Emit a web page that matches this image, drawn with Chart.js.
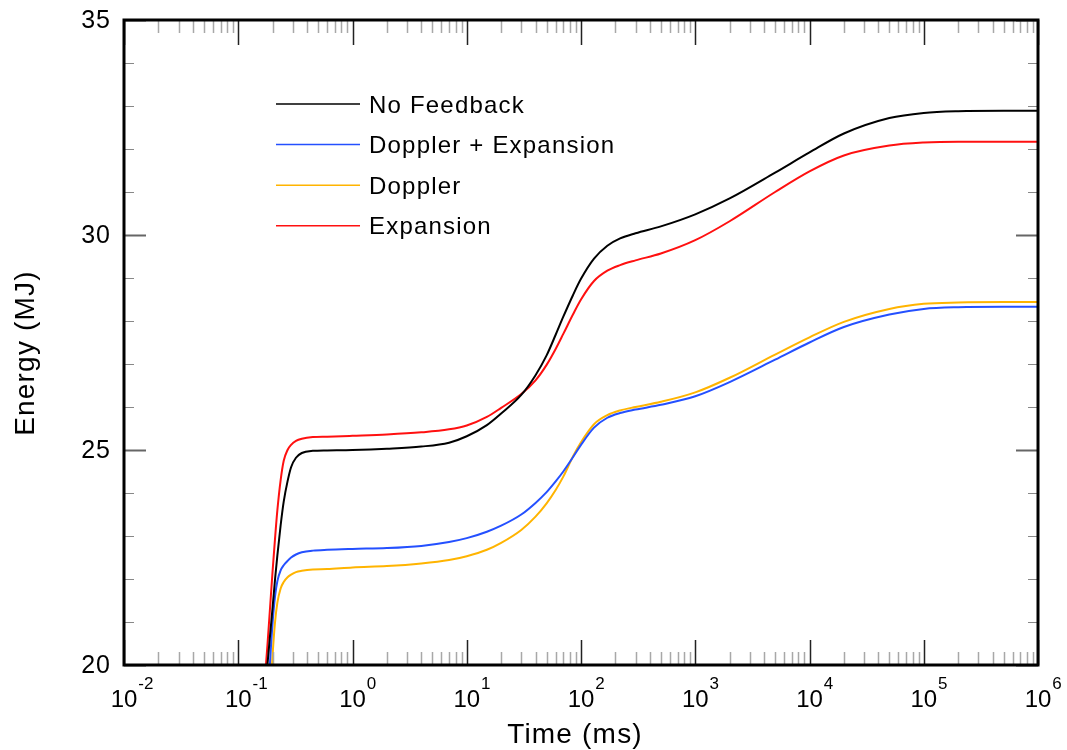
<!DOCTYPE html>
<html>
<head>
<meta charset="utf-8">
<script src="https://cdn.jsdelivr.net/npm/chart.js@4"></script>
<style>
  html, body { margin: 0; padding: 0; background: #fff; }
  #wrap { width: 1067px; height: 750px; }
</style>
</head>
<body>
<div id="wrap"><canvas id="energyChart" width="1067" height="750"></canvas></div>
<script>
// 时间点 (ms)
const times = [0.16, 0.17, 0.18, 0.19, 0.2, 0.21, 0.22, 0.235, 0.25, 0.27, 0.29, 0.32, 0.36, 0.45, 0.6,
  1, 2, 4, 7, 10, 15, 20, 30, 40, 50, 60, 70, 85, 100, 130, 170, 220, 300, 500,
  1000, 2000, 5000, 1e4, 2e4, 5e4, 1e5, 2e5, 5e5, 1e6];

// 各曲线能量 (MJ)
const noFeedback = [18.4, 19.2, 20.0, 20.7, 21.35, 22.0, 22.55, 23.25, 23.8, 24.27, 24.6, 24.82, 24.93, 24.98, 24.99,
  25.0, 25.03, 25.08, 25.17, 25.32, 25.58, 25.85, 26.28, 26.74, 27.2, 27.68, 28.1, 28.6, 28.98, 29.45, 29.75, 29.92, 30.04, 30.2,
  30.48, 30.85, 31.45, 31.92, 32.36, 32.72, 32.84, 32.88, 32.89, 32.89];
const dopplerExpansion = [16.5, 17.8, 19.0, 20.1, 21.0, 21.6, 21.95, 22.2, 22.32, 22.42, 22.5, 22.57, 22.62, 22.66, 22.68,
  22.7, 22.72, 22.77, 22.86, 22.95, 23.1, 23.24, 23.5, 23.77, 24.02, 24.27, 24.5, 24.83, 25.12, 25.52, 25.75, 25.86, 25.94, 26.05,
  26.25, 26.58, 27.1, 27.5, 27.86, 28.15, 28.28, 28.32, 28.33, 28.33];
const doppler = [15.5, 16.8, 18.0, 19.2, 20.25, 21.0, 21.45, 21.78, 21.93, 22.04, 22.1, 22.16, 22.19, 22.22, 22.23,
  22.27, 22.3, 22.36, 22.44, 22.53, 22.68, 22.84, 23.14, 23.45, 23.76, 24.07, 24.38, 24.85, 25.18, 25.6, 25.81, 25.92, 26.0, 26.12,
  26.34, 26.68, 27.22, 27.62, 27.98, 28.28, 28.4, 28.43, 28.44, 28.44];
const expansion = [18.6, 19.6, 20.45, 21.35, 22.2, 22.95, 23.6, 24.3, 24.75, 25.0, 25.12, 25.21, 25.26, 25.3, 25.31,
  25.33, 25.36, 25.41, 25.48, 25.57, 25.77, 25.98, 26.3, 26.62, 26.98, 27.35, 27.7, 28.15, 28.5, 28.93, 29.17, 29.3, 29.41, 29.57,
  29.88, 30.32, 31.0, 31.48, 31.85, 32.08, 32.15, 32.17, 32.17, 32.17];

const seriesLabels = ['No Feedback', 'Doppler + Expansion', 'Doppler', 'Expansion'];
const seriesColors = ['#000000', '#2450ff', '#ffb400', '#ff1010'];

// 坐标轴刻度
const xExponents = [-2, -1, 0, 1, 2, 3, 4, 5, 6];
const yTicks = [20, 21, 22, 23, 24, 25, 26, 27, 28, 29, 30, 31, 32, 33, 34, 35];
const yLabels = [20, 25, 30, 35];

const FONT = '"Liberation Sans", Arial, Helvetica, sans-serif';

// 自定义绘制：边框、内向刻度、标签、图例
const framePlugin = {
  id: 'frame',
  afterDraw(chart) {
    const ctx = chart.ctx;
    const a = chart.chartArea;
    const xs = chart.scales.x;
    const ys = chart.scales.y;
    ctx.save();

    // x 轴刻度 (上下)
    xExponents.forEach((e, i) => {
      const px = Math.round(xs.getPixelForValue(Math.pow(10, e))) + 0.5;
      ctx.strokeStyle = '#222';
      ctx.lineWidth = 1.5;
      ctx.beginPath();
      ctx.moveTo(px, a.bottom); ctx.lineTo(px, a.bottom - 25);
      ctx.moveTo(px, a.top); ctx.lineTo(px, a.top + 25);
      ctx.stroke();
      if (i < xExponents.length - 1) {
        for (let k = 2; k <= 9; k++) {
          const mx = Math.round(xs.getPixelForValue(k * Math.pow(10, e))) + 0.5;
          ctx.strokeStyle = '#a8a8a8';
          ctx.lineWidth = 1.5;
          ctx.beginPath();
          ctx.moveTo(mx, a.bottom); ctx.lineTo(mx, a.bottom - 13);
          ctx.moveTo(mx, a.top); ctx.lineTo(mx, a.top + 13);
          ctx.stroke();
        }
      }
    });

    // y 轴刻度 (左右)
    yTicks.forEach(v => {
      const py = Math.round(ys.getPixelForValue(v)) + 0.5;
      const major = yLabels.includes(v);
      ctx.strokeStyle = major ? '#666' : '#888';
      ctx.lineWidth = major ? 2 : 1.2;
      const len = major ? 22 : 10;
      ctx.beginPath();
      ctx.moveTo(a.left, py); ctx.lineTo(a.left + len, py);
      ctx.moveTo(a.right, py); ctx.lineTo(a.right - len, py);
      ctx.stroke();
    });

    // 边框
    ctx.strokeStyle = '#000';
    ctx.lineWidth = 3;
    ctx.strokeRect(a.left, a.top, a.right - a.left, a.bottom - a.top);

    // x 标签 10^n
    ctx.fillStyle = '#000';
    xExponents.forEach(e => {
      const px = xs.getPixelForValue(Math.pow(10, e));
      ctx.font = '24px ' + FONT;
      ctx.textAlign = 'center';
      ctx.textBaseline = 'alphabetic';
      const w = ctx.measureText('10').width;
      ctx.fillText('10', px, 707);
      ctx.font = '17px ' + FONT;
      ctx.textAlign = 'left';
      ctx.fillText(String(e), px + w / 2 + 1, 689);
    });

    // y 标签
    ctx.font = '25px ' + FONT;
    ctx.letterSpacing = '1px';
    ctx.textAlign = 'right';
    ctx.textBaseline = 'middle';
    yLabels.forEach(v => {
      ctx.fillText(String(v), 111, ys.getPixelForValue(v) + 1);
    });

    // 轴标题
    ctx.font = '28px ' + FONT;
    ctx.letterSpacing = '1.2px';
    ctx.textAlign = 'center';
    ctx.textBaseline = 'alphabetic';
    ctx.fillText('Time (ms)', 575, 743);
    ctx.save();
    ctx.translate(34, 353);
    ctx.rotate(-Math.PI / 2);
    ctx.fillText('Energy (MJ)', 0, 0);
    ctx.restore();

    // 图例
    ctx.font = '24px ' + FONT;
    ctx.letterSpacing = '1.2px';
    ctx.textAlign = 'left';
    chart.data.datasets.forEach((ds, i) => {
      const ly = 104 + i * 40.6;
      ctx.strokeStyle = ds.borderColor;
      ctx.lineWidth = 1.5;
      ctx.beginPath();
      ctx.moveTo(276, ly); ctx.lineTo(360, ly);
      ctx.stroke();
      ctx.fillStyle = '#000';
      ctx.fillText(ds.label, 369, ly + 8.5);
    });

    ctx.restore();
  }
};

const allSeries = [noFeedback, dopplerExpansion, doppler, expansion];

new Chart(document.getElementById('energyChart'), {
  type: 'line',
  data: {
    datasets: allSeries.map((vals, i) => ({
      label: seriesLabels[i],
      data: times.map((t, j) => ({ x: t, y: vals[j] })),
      borderColor: seriesColors[i],
      borderWidth: 2,
      pointRadius: 0,
      cubicInterpolationMode: 'monotone',
      fill: false
    }))
  },
  options: {
    responsive: false,
    animation: false,
    layout: { padding: { left: 124, right: 29, top: 20, bottom: 85 } },
    plugins: { legend: { display: false }, tooltip: { enabled: false } },
    scales: {
      x: { type: 'logarithmic', min: 0.01, max: 1e6, display: false },
      y: { type: 'linear', min: 20, max: 35, display: false }
    }
  },
  plugins: [framePlugin]
});
</script>
</body>
</html>
